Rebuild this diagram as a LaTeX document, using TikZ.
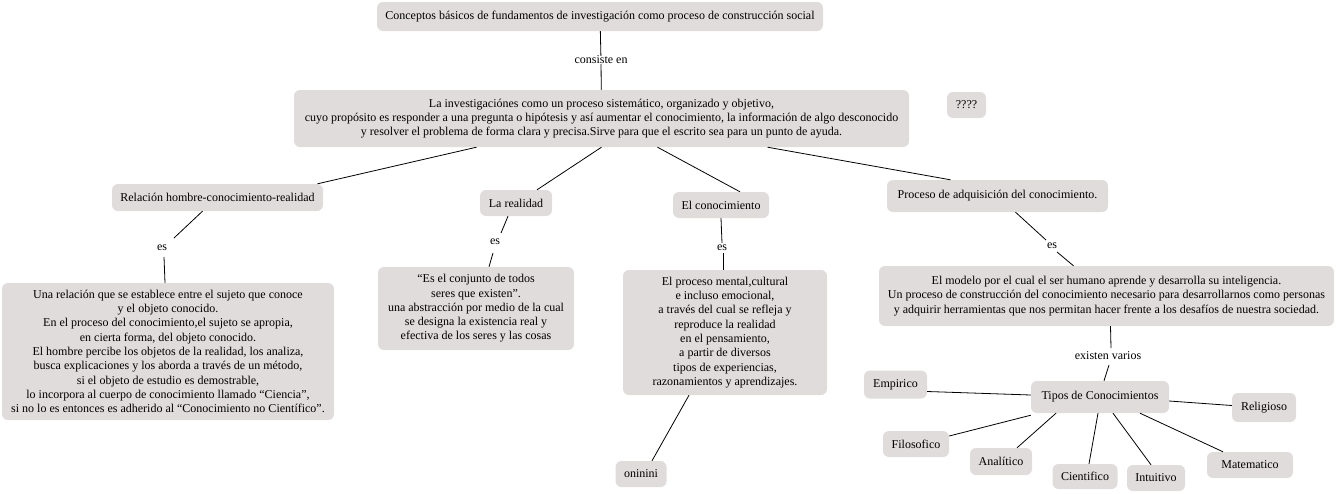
\documentclass[tikz,border=0pt]{standalone}
\usepackage{fontspec}
\setmainfont{Liberation Serif}
\usepackage{tikz}
\usepackage{xcolor}
\definecolor{cmapgray}{RGB}{224,220,219}

\begin{document}
\begin{tikzpicture}[x=1pt,y=-1pt]
					\tikzstyle{concept} = [rectangle,rounded corners=6pt,fill=cmapgray,align=center,inner sep=0pt,font=\fontsize{12}{14.3}\selectfont]
					\tikzstyle{phrase} = [inner sep=0pt,font=\fontsize{12}{14.3}\selectfont]
					\tikzstyle{edge} = [-,line width=0.8pt]
					\useasboundingbox (0,0) rectangle (1336,493);
					% top level
					\node[concept,minimum width=446pt,minimum height=29pt] (top) at (600,16.5) {Conceptos básicos de fundamentos de investigación como proceso de construcción social};
					\node[phrase] (l0) at (601,60) {consiste en};
					\node[concept,minimum width=615pt,minimum height=57pt] (main) at (601.5,118.5) {La investigaciónes como un proceso sistemático, organizado y objetivo,\\ cuyo propósito es responder a una pregunta o hipótesis y así aumentar el conocimiento, la información de algo desconocido\\ y resolver el problema de forma clara y precisa.Sirve para que el escrito sea para  un punto de ayuda.};
					\node[concept,minimum width=39pt,minimum height=26pt] (qq) at (966.5,105) {????};
					% second level
					\node[concept,minimum width=211pt,minimum height=27pt] (rel) at (217.5,197.5) {Relación hombre-conocimiento-realidad};
					\node[concept,minimum width=72pt,minimum height=26pt] (real) at (516,203) {La realidad};
					\node[concept,minimum width=96pt,minimum height=26pt] (con) at (721,205) {El conocimiento};
					\node[concept,minimum width=221pt,minimum height=32pt] (proc) at (997.5,196) {Proceso de adquisición del conocimiento.};
					\node[phrase] (es1) at (162,248) {es};
					\node[phrase] (es2) at (495,242) {es};
					\node[phrase] (es3) at (722,248) {es};
					\node[phrase] (es4) at (1052,246) {es};
					% definitions
					\node[concept,minimum width=332pt,minimum height=137pt] (brel) at (168,351.5) {Una relación que se establece entre el sujeto que conoce\\ y el objeto conocido.\\ En el proceso del conocimiento,el sujeto se apropia,\\ en cierta forma, del objeto conocido.\\ El hombre percibe los objetos de la realidad, los analiza,\\ busca explicaciones y los aborda a través de un método,\\ si el objeto de estudio es demostrable,\\ lo incorpora al cuerpo de conocimiento llamado “Ciencia”,\\ si no lo es entonces es adherido al “Conocimiento no Científico”.};
					\node[concept,minimum width=196pt,minimum height=83pt] (breal) at (476,308.5) {“Es el conjunto de todos\\ seres que existen”.\\ una abstracción por medio de la cual\\ se designa la existencia real y\\ efectiva de los seres y las cosas};
					\node[concept,minimum width=204pt,minimum height=125pt] (bcon) at (725,332.5) {El proceso mental,cultural\\ e incluso emocional,\\ a través del cual se refleja y\\ reproduce la realidad\\ en el pensamiento,\\ a partir de diversos\\ tipos de experiencias,\\ razonamientos y aprendizajes.};
					\node[concept,minimum width=51pt,minimum height=26pt] (oni) at (641,474) {oninini};
					\node[concept,minimum width=455pt,minimum height=60pt] (bproc) at (1106.5,296) {El modelo por el cual el ser humano aprende y desarrolla su inteligencia.\\ Un proceso de construcción del conocimiento necesario para desarrollarnos como personas\\ y adquirir herramientas que nos permitan hacer frente a los desafíos de nuestra sociedad.};
					% types
					\node[phrase] (l5) at (1108,356) {existen varios};
					\node[concept,minimum width=138pt,minimum height=32pt] (tipos) at (1100,397) {Tipos de Conocimientos};
					\node[concept,minimum width=63pt,minimum height=28pt] (emp) at (895.5,384.5) {Empirico};
					\node[concept,minimum width=64pt,minimum height=29pt] (relig) at (1264,407.5) {Religioso};
					\node[concept,minimum width=66pt,minimum height=26pt] (fil) at (916,444) {Filosofico};
					\node[concept,minimum width=62pt,minimum height=27pt] (ana) at (1001,461.5) {Analítico};
					\node[concept,minimum width=65pt,minimum height=25pt] (cie) at (1085,476.5) {Cientifico};
					\node[concept,minimum width=58pt,minimum height=26pt] (int) at (1156,478) {Intuitivo};
					\node[concept,minimum width=86pt,minimum height=26pt] (mat) at (1250,465) {Matematico};
					% connectors
					\draw[edge] (top)--(l0);
					\draw[edge] (l0)--(main);
					\draw[edge] ([xshift=-125pt]main.south)--([xshift=100pt]rel.north);
					\draw[edge] (main.south)--([xshift=21pt]real.north);
					\draw[edge] ([xshift=56pt]main.south)--([xshift=19pt]con.north);
					\draw[edge] ([xshift=166pt]main.south)--([xshift=-47pt]proc.north);
					\draw[edge] ([xshift=-15pt]rel.south)--([xshift=12pt,yshift=10pt]es1.center);
					\draw[edge] ([xshift=2pt,yshift=-9pt]es1.center)--([xshift=-3pt]brel.north);
					\draw[edge] ([xshift=-8pt]real.south)--([xshift=6pt,yshift=9pt]es2.center);
					\draw[edge] ([xshift=-2pt,yshift=-11pt]es2.center)--([xshift=13pt]breal.north);
					\draw[edge] (con.south)--([yshift=5pt]es3.center);
					\draw[edge] ([xshift=1pt,yshift=-5pt]es3.center)--([xshift=-2pt]bcon.north);
					\draw[edge] ([xshift=18pt]proc.south)--([xshift=-6pt,yshift=6pt]es4.center);
					\draw[edge] ([xshift=5pt,yshift=-6pt]es4.center)--([xshift=-33pt]bproc.north);
					\draw[edge] ([xshift=4pt]bproc.south)--([xshift=3pt,yshift=8pt]l5.center);
					\draw[edge] ([xshift=1pt,yshift=-9pt]l5.center)--([xshift=4pt]tipos.north);
					\draw[edge] ([xshift=-36pt]bcon.south)--([xshift=11pt]oni.north);
					\draw[edge] ([yshift=2pt]tipos.west)--([yshift=-7pt]emp.east);
					\draw[edge] ([yshift=-4pt]tipos.east)--([yshift=2pt]relig.west);
					\draw[edge] ([yshift=-2pt]tipos.south west)--([yshift=8pt]fil.east);
					\draw[edge] ([xshift=-44pt]tipos.south)--([xshift=16pt]ana.north);
					\draw[edge] ([xshift=-2pt]tipos.south)--([xshift=4pt]cie.north);
					\draw[edge] ([xshift=13pt]tipos.south)--([xshift=-5pt]int.north);
					\draw[edge] ([xshift=40pt]tipos.south)--([xshift=-27pt]mat.north);
\end{tikzpicture}
\end{document}
